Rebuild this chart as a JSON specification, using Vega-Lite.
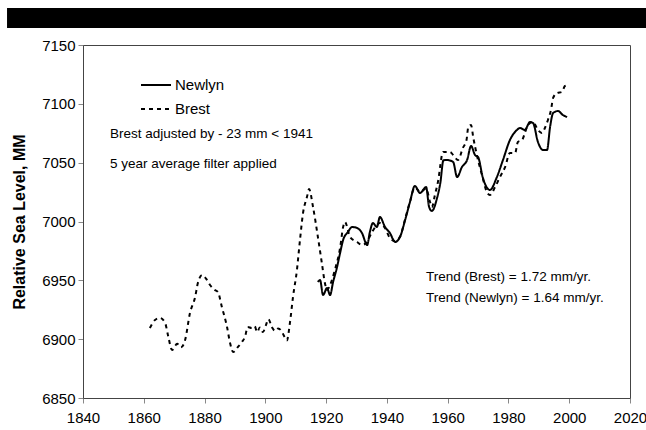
{
  "$schema": "https://vega.github.io/schema/vega-lite/v6.json",
  "autosize": {"type": "none"},
  "padding": {"left": 83, "top": 45, "right": 16, "bottom": 32},
  "width": 547,
  "height": 353,
  "background": "white",
  "config": {
    "font": "Liberation Sans",
    "view": {"stroke": "#444", "strokeWidth": 1},
    "axis": {"grid": false, "domainColor": "#444", "tickColor": "#888", "labelColor": "black", "labelFont": "Liberation Sans", "labelFontSize": 15, "titleFont": "Liberation Sans"}
  },
  "data": {"values": [
    {"station": "Brest", "year": 1862.0, "level": 6909.5},
    {"station": "Brest", "year": 1863.7, "level": 6916.3},
    {"station": "Brest", "year": 1865.3, "level": 6918.0},
    {"station": "Brest", "year": 1867.0, "level": 6914.0},
    {"station": "Brest", "year": 1868.0, "level": 6903.0},
    {"station": "Brest", "year": 1869.3, "level": 6890.8},
    {"station": "Brest", "year": 1871.0, "level": 6896.0},
    {"station": "Brest", "year": 1872.2, "level": 6893.0},
    {"station": "Brest", "year": 1873.6, "level": 6899.3},
    {"station": "Brest", "year": 1875.2, "level": 6922.2},
    {"station": "Brest", "year": 1876.9, "level": 6935.8},
    {"station": "Brest", "year": 1877.8, "level": 6947.7},
    {"station": "Brest", "year": 1879.2, "level": 6954.5},
    {"station": "Brest", "year": 1880.8, "level": 6950.3},
    {"station": "Brest", "year": 1881.8, "level": 6946.0},
    {"station": "Brest", "year": 1883.4, "level": 6941.8},
    {"station": "Brest", "year": 1884.4, "level": 6940.1},
    {"station": "Brest", "year": 1885.7, "level": 6927.3},
    {"station": "Brest", "year": 1887.4, "level": 6910.3},
    {"station": "Brest", "year": 1888.4, "level": 6896.7},
    {"station": "Brest", "year": 1889.4, "level": 6889.1},
    {"station": "Brest", "year": 1891.0, "level": 6893.4},
    {"station": "Brest", "year": 1892.3, "level": 6897.6},
    {"station": "Brest", "year": 1893.3, "level": 6901.9},
    {"station": "Brest", "year": 1894.2, "level": 6910.3},
    {"station": "Brest", "year": 1895.5, "level": 6909.5},
    {"station": "Brest", "year": 1896.5, "level": 6911.0},
    {"station": "Brest", "year": 1897.3, "level": 6906.0},
    {"station": "Brest", "year": 1898.2, "level": 6910.0},
    {"station": "Brest", "year": 1899.2, "level": 6906.0},
    {"station": "Brest", "year": 1900.2, "level": 6912.0},
    {"station": "Brest", "year": 1901.0, "level": 6917.0},
    {"station": "Brest", "year": 1902.2, "level": 6910.0},
    {"station": "Brest", "year": 1903.2, "level": 6907.0},
    {"station": "Brest", "year": 1904.2, "level": 6909.0},
    {"station": "Brest", "year": 1905.3, "level": 6907.0},
    {"station": "Brest", "year": 1906.3, "level": 6902.0},
    {"station": "Brest", "year": 1907.1, "level": 6899.0},
    {"station": "Brest", "year": 1908.1, "level": 6914.0},
    {"station": "Brest", "year": 1909.1, "level": 6935.8},
    {"station": "Brest", "year": 1910.4, "level": 6958.8},
    {"station": "Brest", "year": 1911.4, "level": 6984.3},
    {"station": "Brest", "year": 1912.4, "level": 7007.2},
    {"station": "Brest", "year": 1913.7, "level": 7020.8},
    {"station": "Brest", "year": 1914.4, "level": 7027.6},
    {"station": "Brest", "year": 1915.7, "level": 7012.3},
    {"station": "Brest", "year": 1917.3, "level": 6986.8},
    {"station": "Brest", "year": 1918.6, "level": 6964.7},
    {"station": "Brest", "year": 1919.6, "level": 6947.7},
    {"station": "Brest", "year": 1920.3, "level": 6941.8},
    {"station": "Brest", "year": 1921.3, "level": 6946.0},
    {"station": "Brest", "year": 1922.9, "level": 6959.0},
    {"station": "Brest", "year": 1924.6, "level": 6977.5},
    {"station": "Brest", "year": 1925.6, "level": 6995.3},
    {"station": "Brest", "year": 1926.2, "level": 6999.6},
    {"station": "Brest", "year": 1927.9, "level": 6986.8},
    {"station": "Brest", "year": 1930.2, "level": 6982.6},
    {"station": "Brest", "year": 1931.8, "level": 6980.0},
    {"station": "Brest", "year": 1933.1, "level": 6981.7},
    {"station": "Brest", "year": 1935.1, "level": 6991.0},
    {"station": "Brest", "year": 1936.7, "level": 6997.0},
    {"station": "Brest", "year": 1937.7, "level": 6998.7},
    {"station": "Brest", "year": 1939.4, "level": 6994.4},
    {"station": "Brest", "year": 1941.0, "level": 6986.0},
    {"station": "Brest", "year": 1942.7, "level": 6983.4},
    {"station": "Brest", "year": 1944.3, "level": 6987.0},
    {"station": "Brest", "year": 1946.0, "level": 7002.0},
    {"station": "Brest", "year": 1947.6, "level": 7017.0},
    {"station": "Brest", "year": 1949.2, "level": 7029.0},
    {"station": "Brest", "year": 1951.0, "level": 7025.0},
    {"station": "Brest", "year": 1952.9, "level": 7028.0},
    {"station": "Brest", "year": 1954.2, "level": 7016.6},
    {"station": "Brest", "year": 1954.8, "level": 7012.3},
    {"station": "Brest", "year": 1955.8, "level": 7022.5},
    {"station": "Brest", "year": 1956.8, "level": 7033.6},
    {"station": "Brest", "year": 1958.5, "level": 7059.1},
    {"station": "Brest", "year": 1960.8, "level": 7059.1},
    {"station": "Brest", "year": 1961.8, "level": 7056.5},
    {"station": "Brest", "year": 1963.4, "level": 7052.3},
    {"station": "Brest", "year": 1965.0, "level": 7062.5},
    {"station": "Brest", "year": 1966.2, "level": 7069.3},
    {"station": "Brest", "year": 1966.8, "level": 7080.3},
    {"station": "Brest", "year": 1967.7, "level": 7082.0},
    {"station": "Brest", "year": 1968.4, "level": 7071.8},
    {"station": "Brest", "year": 1969.6, "level": 7056.5},
    {"station": "Brest", "year": 1971.3, "level": 7039.5},
    {"station": "Brest", "year": 1972.9, "level": 7025.1},
    {"station": "Brest", "year": 1973.9, "level": 7022.5},
    {"station": "Brest", "year": 1975.6, "level": 7029.3},
    {"station": "Brest", "year": 1977.2, "level": 7037.8},
    {"station": "Brest", "year": 1978.9, "level": 7046.3},
    {"station": "Brest", "year": 1980.5, "level": 7058.2},
    {"station": "Brest", "year": 1982.2, "level": 7058.2},
    {"station": "Brest", "year": 1983.1, "level": 7067.6},
    {"station": "Brest", "year": 1984.5, "level": 7069.3},
    {"station": "Brest", "year": 1985.4, "level": 7075.2},
    {"station": "Brest", "year": 1986.4, "level": 7082.0},
    {"station": "Brest", "year": 1988.1, "level": 7084.6},
    {"station": "Brest", "year": 1989.7, "level": 7077.8},
    {"station": "Brest", "year": 1991.0, "level": 7075.2},
    {"station": "Brest", "year": 1992.0, "level": 7079.5},
    {"station": "Brest", "year": 1993.0, "level": 7086.3},
    {"station": "Brest", "year": 1994.0, "level": 7094.8},
    {"station": "Brest", "year": 1994.7, "level": 7105.0},
    {"station": "Brest", "year": 1996.0, "level": 7109.2},
    {"station": "Brest", "year": 1997.6, "level": 7110.1},
    {"station": "Brest", "year": 1998.6, "level": 7115.2},
    {"station": "Brest", "year": 1999.6, "level": 7116.0},
    {"station": "Newlyn", "year": 1917.3, "level": 6948.6},
    {"station": "Newlyn", "year": 1918.0, "level": 6950.3},
    {"station": "Newlyn", "year": 1919.0, "level": 6937.5},
    {"station": "Newlyn", "year": 1920.3, "level": 6943.5},
    {"station": "Newlyn", "year": 1921.3, "level": 6937.5},
    {"station": "Newlyn", "year": 1922.3, "level": 6948.6},
    {"station": "Newlyn", "year": 1923.6, "level": 6961.3},
    {"station": "Newlyn", "year": 1924.6, "level": 6973.2},
    {"station": "Newlyn", "year": 1925.6, "level": 6984.3},
    {"station": "Newlyn", "year": 1927.2, "level": 6991.1},
    {"station": "Newlyn", "year": 1928.5, "level": 6995.3},
    {"station": "Newlyn", "year": 1930.2, "level": 6994.5},
    {"station": "Newlyn", "year": 1931.8, "level": 6990.2},
    {"station": "Newlyn", "year": 1933.5, "level": 6980.0},
    {"station": "Newlyn", "year": 1934.4, "level": 6991.1},
    {"station": "Newlyn", "year": 1935.4, "level": 6998.7},
    {"station": "Newlyn", "year": 1936.7, "level": 6995.3},
    {"station": "Newlyn", "year": 1937.7, "level": 7003.8},
    {"station": "Newlyn", "year": 1939.4, "level": 6995.3},
    {"station": "Newlyn", "year": 1941.0, "level": 6990.2},
    {"station": "Newlyn", "year": 1942.7, "level": 6982.6},
    {"station": "Newlyn", "year": 1944.3, "level": 6986.8},
    {"station": "Newlyn", "year": 1946.0, "level": 7001.3},
    {"station": "Newlyn", "year": 1947.6, "level": 7016.6},
    {"station": "Newlyn", "year": 1949.2, "level": 7030.2},
    {"station": "Newlyn", "year": 1950.9, "level": 7024.2},
    {"station": "Newlyn", "year": 1952.9, "level": 7029.3},
    {"station": "Newlyn", "year": 1953.9, "level": 7012.3},
    {"station": "Newlyn", "year": 1954.8, "level": 7008.9},
    {"station": "Newlyn", "year": 1956.5, "level": 7019.9},
    {"station": "Newlyn", "year": 1957.6, "level": 7033.0},
    {"station": "Newlyn", "year": 1958.6, "level": 7052.0},
    {"station": "Newlyn", "year": 1959.8, "level": 7052.3},
    {"station": "Newlyn", "year": 1961.8, "level": 7050.6},
    {"station": "Newlyn", "year": 1963.1, "level": 7037.8},
    {"station": "Newlyn", "year": 1964.7, "level": 7046.3},
    {"station": "Newlyn", "year": 1966.4, "level": 7052.3},
    {"station": "Newlyn", "year": 1967.7, "level": 7064.2},
    {"station": "Newlyn", "year": 1969.0, "level": 7056.5},
    {"station": "Newlyn", "year": 1970.0, "level": 7054.8},
    {"station": "Newlyn", "year": 1971.6, "level": 7037.0},
    {"station": "Newlyn", "year": 1973.9, "level": 7026.8},
    {"station": "Newlyn", "year": 1976.2, "level": 7037.8},
    {"station": "Newlyn", "year": 1978.2, "level": 7052.3},
    {"station": "Newlyn", "year": 1980.5, "level": 7069.3},
    {"station": "Newlyn", "year": 1982.8, "level": 7077.8},
    {"station": "Newlyn", "year": 1983.8, "level": 7079.5},
    {"station": "Newlyn", "year": 1985.4, "level": 7077.8},
    {"station": "Newlyn", "year": 1987.1, "level": 7084.6},
    {"station": "Newlyn", "year": 1988.1, "level": 7083.7},
    {"station": "Newlyn", "year": 1989.7, "level": 7067.6},
    {"station": "Newlyn", "year": 1991.4, "level": 7060.8},
    {"station": "Newlyn", "year": 1992.7, "level": 7060.8},
    {"station": "Newlyn", "year": 1993.7, "level": 7080.3},
    {"station": "Newlyn", "year": 1994.7, "level": 7092.2},
    {"station": "Newlyn", "year": 1996.3, "level": 7093.9},
    {"station": "Newlyn", "year": 1997.9, "level": 7090.5},
    {"station": "Newlyn", "year": 1999.3, "level": 7088.8}
  ]},
  "layer": [
    {
      "data": {"values": [{}]},
      "mark": {"type": "rect", "color": "black"},
      "encoding": {
        "x": {"datum": 1815.0, "type": "quantitative"},
        "x2": {"datum": 2025.5},
        "y": {"datum": 7181.4, "type": "quantitative"},
        "y2": {"datum": 7164.4}
      }
    },
    {
      "mark": {"type": "line", "color": "black", "strokeWidth": 2, "interpolate": "monotone"},
      "encoding": {
        "x": {"field": "year", "type": "quantitative",
              "scale": {"domain": [1840, 2020], "nice": false, "zero": false},
              "axis": {"title": null, "values": [1840, 1860, 1880, 1900, 1920, 1940, 1960, 1980, 2000, 2020], "format": "d", "tickSize": 5, "labelPadding": 7, "labelFlush": false}},
        "y": {"field": "level", "type": "quantitative",
              "scale": {"domain": [6850, 7150], "nice": false, "zero": false},
              "axis": {"title": "Relative Sea Level, MM", "titleFontSize": 16, "titleFontWeight": "bold", "titlePadding": 14, "values": [6850, 6900, 6950, 7000, 7050, 7100, 7150], "format": "d", "tickSize": 5, "labelPadding": 3}},
        "strokeDash": {"field": "station", "type": "nominal",
              "scale": {"domain": ["Newlyn", "Brest"], "range": [[1, 0], [4, 4]]},
              "legend": {"title": null, "orient": "none", "legendX": 57, "legendY": 24, "symbolType": "stroke", "symbolSize": 900, "symbolStrokeWidth": 2, "symbolStrokeColor": "black", "labelFontSize": 15, "labelFont": "Liberation Sans", "labelColor": "black", "labelOffset": 3, "rowPadding": -13}}
      }
    },
    {
      "data": {"values": [{}]},
      "mark": {"type": "text", "align": "left", "baseline": "middle", "fontSize": 13.5, "font": "Liberation Sans", "color": "black"},
      "encoding": {"x": {"datum": 1848.9, "type": "quantitative"}, "y": {"datum": 7074.4, "type": "quantitative"}, "text": {"value": "Brest adjusted by - 23 mm < 1941"}}
    },
    {
      "data": {"values": [{}]},
      "mark": {"type": "text", "align": "left", "baseline": "middle", "fontSize": 13.5, "font": "Liberation Sans", "color": "black"},
      "encoding": {"x": {"datum": 1848.9, "type": "quantitative"}, "y": {"datum": 7048.9, "type": "quantitative"}, "text": {"value": "5 year average filter applied"}}
    },
    {
      "data": {"values": [{}]},
      "mark": {"type": "text", "align": "left", "baseline": "middle", "fontSize": 13.5, "font": "Liberation Sans", "color": "black"},
      "encoding": {"x": {"datum": 1952.9, "type": "quantitative"}, "y": {"datum": 6952.8, "type": "quantitative"}, "text": {"value": "Trend (Brest) = 1.72 mm/yr."}}
    },
    {
      "data": {"values": [{}]},
      "mark": {"type": "text", "align": "left", "baseline": "middle", "fontSize": 13.5, "font": "Liberation Sans", "color": "black"},
      "encoding": {"x": {"datum": 1952.9, "type": "quantitative"}, "y": {"datum": 6935.0, "type": "quantitative"}, "text": {"value": "Trend (Newlyn) = 1.64 mm/yr."}}
    }
  ]
}
